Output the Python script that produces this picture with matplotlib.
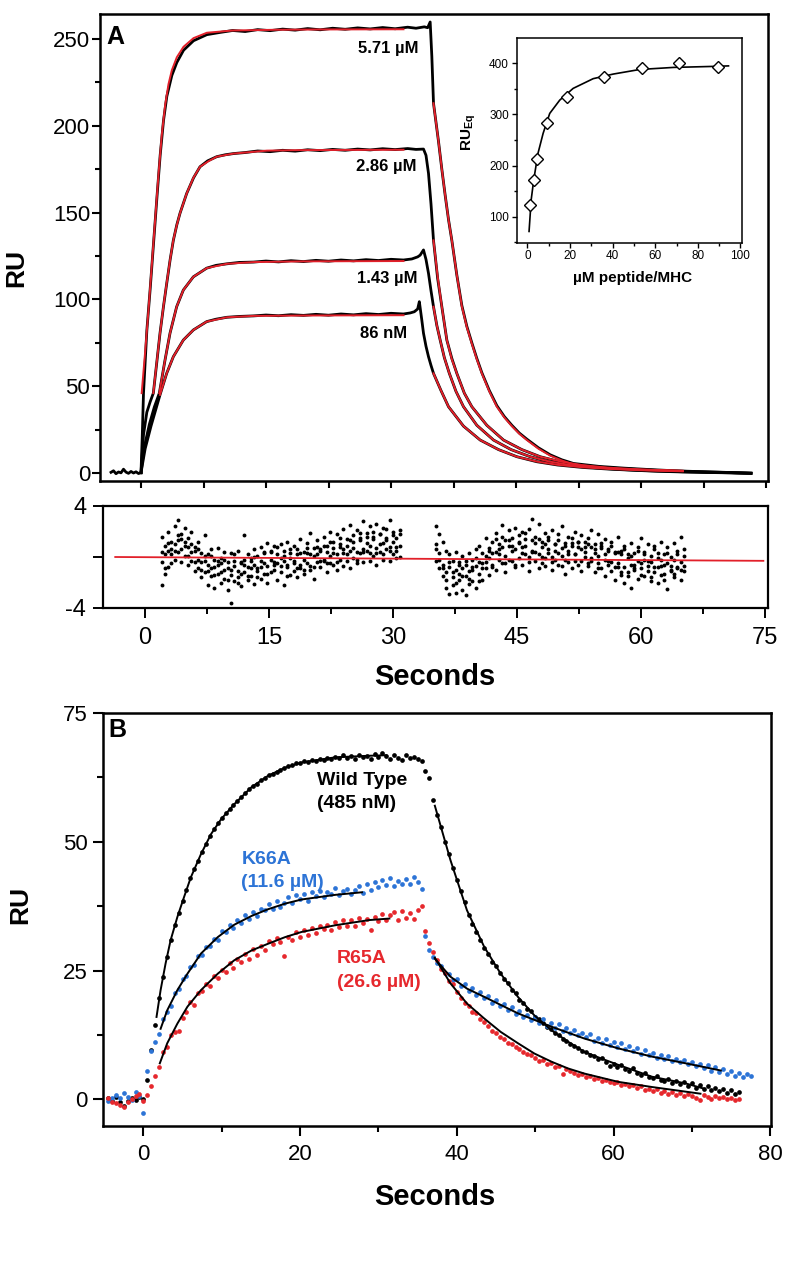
import matplotlib
matplotlib.use("Agg")
import matplotlib.pyplot as plt

plt.rcParams["font.family"] = ["Liberation Sans", "DejaVu Sans"]
plt.rcParams["mathtext.fontset"] = "custom"
plt.rcParams["mathtext.rm"] = "Liberation Sans"
plt.rcParams["mathtext.bf"] = "Liberation Sans:bold"

FIT_RED = "#e2202a"
BLUE = "#2d74d6"
RED = "#e6282d"
NARROW = ["Liberation Sans Narrow", "Liberation Sans", "DejaVu Sans"]

# ---------------- panel A: sensorgrams (seconds, RU) ----------------
base_t = [-3.6, -3.3, -3.0, -2.7, -2.4, -2.1, -1.8, -1.5, -1.2, -0.9, -0.6, -0.3, 0.0]
base_ru = [0.4, 1.3, -0.4, 0.6, 0.1, 2.2, 0.5, -0.2, 0.9, 0.0, 0.7, -0.3, 0.2]

t_571 = [0.0, 0.15, 0.3, 0.7, 1.1, 1.5, 1.9, 2.3, 2.7, 3.1, 3.7, 4.3, 5.1, 6.3, 7.9, 9.5,
         11.0, 12.5, 14.0, 15.5, 17.0, 18.5, 20.0, 21.5, 23.0, 24.5, 26.0, 27.5, 29.0, 30.5,
         32.0, 33.0, 34.0, 34.4, 34.7, 34.9, 35.1, 35.4, 35.7, 36.1, 36.5, 36.9, 37.3, 37.9, 38.5, 39.1,
         39.7, 40.3, 40.9, 41.8, 42.7, 43.6, 44.5, 45.4, 46.3, 47.7, 49.1, 50.5, 51.9, 55.0, 58.0, 61.0,
         64.0, 67.0, 70.0, 73.2]
ru_571 = [0.2, 21, 46, 82, 106, 132, 158, 183, 203, 217, 229, 236.5, 243.5, 249, 252.5, 253.8,
          254.9, 254.3, 255.4, 254.8, 255.7, 255.1, 256.0, 255.3, 256.2, 255.6, 256.4, 255.8, 256.6, 255.9,
          256.8, 256.2, 257.0, 256.5, 259.8, 240, 213, 202, 191, 175, 160, 146, 134, 114, 96.5, 84.5,
          75, 66, 57.8, 47.5, 38.8, 32.5, 27.5, 23, 19.5, 14.5, 10.5, 7.6, 5.5, 3.8, 2.8, 2.0,
          1.3, 0.8, 0.4, -0.2]
fit_571_on_t = [0.08, 0.5, 0.9, 1.3, 1.7, 2.1, 2.5, 2.9, 3.3, 3.7, 4.3, 5.1, 6.3, 7.9, 11.0, 16.0, 22.0, 31.5]
fit_571_on = [46, 70, 94, 120, 146, 172, 195, 212, 224, 232, 239.5, 245.5, 250.5, 253.6, 254.9, 255.3, 255.5, 255.6]
fit_571_off_t = [35.1, 35.4, 35.7, 36.1, 36.5, 36.9, 37.3, 37.9, 38.5, 39.1, 39.7, 40.3, 40.9, 41.8,
                 42.7, 43.6, 44.5, 45.4, 46.3, 47.7, 49.1, 50.5, 51.9, 55.0, 58.0, 61.5, 65.0]
fit_571_off = [213, 202, 191, 175, 160, 146, 134, 114, 96, 84, 74.5, 65.5, 57.4, 47,
               38.2, 32, 27, 22.6, 19, 14, 10, 7.2, 5, 3.2, 2.3, 1.7, 1.3]

t_286 = [0.0, 0.3, 0.7, 1.1, 1.48, 1.9, 2.28, 2.7, 3.08, 3.5, 3.88, 4.3, 4.68, 5.48, 6.3,
         7.08, 8.0, 9.08, 10.1, 11.1, 12.5, 14.0, 15.5, 17.0, 18.5, 20.0, 21.5, 23.0, 24.5, 26.0,
         27.5, 29.0, 30.5, 32.0, 33.0, 33.9, 34.2, 34.5, 34.8, 35.1, 35.6, 36.1, 36.7, 37.3, 37.9,
         38.8, 39.7, 41.5, 43.5, 45.7, 47.9, 50.5, 53.0, 56.0, 59.0, 62.0, 65.0, 68.0, 71.0, 73.2]
ru_286 = [0.2, 22, 35, 41, 46, 64, 80.5, 96, 109, 123, 134, 143, 149.6, 161, 170,
          176.4, 179.8, 182.2, 183.3, 184.0, 184.6, 185.5, 185.1, 185.9, 185.4, 186.2, 185.7, 186.4, 185.9, 186.6,
          186.1, 186.8, 186.3, 186.9, 186.4, 186.6, 183, 172.6, 155, 134, 112, 95.8, 76.6, 66, 57.4,
          46, 38.2, 27.5, 19, 13.5, 9.4, 6.2, 4.3, 3.0, 2.2, 1.5, 1.0, 0.6, 0.2, -0.1]
fit_286_on_t = [1.48, 1.88, 2.28, 2.68, 3.08, 3.48, 3.88, 4.28, 4.68, 5.48, 6.28, 7.08, 8.1, 9.08, 11.1, 15.1, 19.1, 25.0, 31.5]
fit_286_on = [46, 63.5, 80.5, 95.5, 109.3, 122.5, 134.2, 142.5, 149.6, 161, 170, 176.4, 179.6, 182.2, 184, 185.7, 186, 186.1, 186.2]
fit_286_off_t = [35.1, 35.6, 36.1, 36.7, 37.3, 37.9, 38.8, 39.7, 41.5, 43.5, 45.7, 47.9, 50.5, 53.0, 56.0, 60.0, 65.0]
fit_286_off = [134, 113, 95.8, 76.6, 65.5, 57.4, 46, 38.2, 27.5, 19, 13.5, 9.4, 6.5, 4.5, 3.1, 2.0, 1.2]

t_143 = [0.0, 0.4, 1.0, 1.6, 2.2, 2.88, 3.48, 4.28, 5.08, 6.28, 7.88, 9.0, 10.3, 11.8, 13.5,
         15.0, 16.5, 18.0, 19.5, 21.0, 22.5, 24.0, 25.5, 27.0, 28.5, 30.0, 31.5, 32.5, 33.2, 33.5,
         33.9, 34.2, 34.5, 34.8, 35.1, 35.5, 35.9, 36.4, 37.0, 37.8, 38.7, 40.3, 42.3, 44.4, 46.7,
         49.0, 51.5, 54.0, 57.0, 60.0, 63.0, 66.0, 69.0, 73.2]
ru_143 = [0.2, 15, 28, 38, 46, 65, 80.5, 95.8, 105.4, 113, 118, 119.6, 120.5, 121.3, 121.5,
          122.1, 121.6, 122.3, 121.8, 122.5, 122.0, 122.7, 122.2, 122.9, 122.4, 123.1, 122.7, 123.3, 124.5, 125.5,
          128.5, 123, 115, 105, 95.8, 85, 76.6, 66.5, 57.4, 47, 38.2, 27.5, 19, 13.5, 9.4,
          6.4, 4.4, 3.2, 2.2, 1.5, 1.0, 0.6, 0.3, -0.1]
fit_143_on_t = [2.2, 2.88, 3.48, 4.28, 5.08, 6.28, 7.88, 10.3, 13.5, 19.1, 25.0, 31.5]
fit_143_on = [46, 65, 80.5, 95.8, 105.4, 113, 118, 120.5, 121.5, 121.9, 122.0, 122.1]
fit_143_off_t = [35.1, 35.5, 35.9, 36.4, 37.0, 37.8, 38.7, 40.3, 42.3, 44.4, 46.7, 49.0, 51.5, 54.0, 57.0, 61.0, 65.0]
fit_143_off = [95.8, 85, 76.6, 66.5, 57.4, 47, 38.2, 27.5, 19, 13.5, 9.4, 6.6, 4.6, 3.4, 2.4, 1.6, 1.1]

t_086 = [0.0, 0.5, 1.2, 1.8, 2.28, 3.08, 3.88, 5.08, 6.28, 7.88, 9.0, 10.3, 11.8, 13.5, 15.0,
         16.5, 18.0, 19.5, 21.0, 22.5, 24.0, 25.5, 27.0, 28.5, 30.0, 31.5, 32.3, 32.8, 33.2, 33.4,
         33.7, 33.9, 34.2, 34.5, 34.8, 35.1, 36.0, 36.9, 38.7, 40.7, 42.9, 45.1, 47.5, 50.0, 53.0,
         56.0, 59.0, 62.0, 65.0, 68.0, 73.2]
ru_086 = [0.2, 14, 27, 37, 45, 57.4, 67, 76.6, 82.4, 87.2, 88.6, 89.7, 90.2, 90.5, 91.0,
          90.6, 91.2, 90.8, 91.4, 90.9, 91.6, 91.1, 91.8, 91.3, 92.0, 91.6, 92.2, 92.9, 94.5, 98.7,
          88, 80.5, 73, 67, 62, 57.4, 47.5, 38.2, 27, 19, 13.5, 9.4, 6.5, 4.6, 3.2,
          2.3, 1.6, 1.0, 0.6, 0.3, -0.1]
fit_086_on_t = [2.28, 3.08, 3.88, 5.08, 6.28, 7.88, 10.3, 13.5, 19.1, 25.0, 31.5]
fit_086_on = [45, 57.4, 67, 76.6, 82.4, 87.2, 89.7, 90.5, 90.7, 90.8, 90.9]
fit_086_off_t = [35.1, 36.0, 36.9, 38.7, 40.7, 42.9, 45.1, 47.5, 50.0, 53.0, 56.0, 60.0, 65.0]
fit_086_off = [57.4, 47.5, 38.2, 27, 19, 13.5, 9.4, 6.6, 4.7, 3.3, 2.4, 1.6, 1.0]

conc_labels = ["5.71 µM", "2.86 µM", "1.43 µM", "86 nM"]
conc_label_xy = [(26.0, 244.8), (25.8, 176.3), (25.9, 112.3), (26.3, 80.6)]

# ---------------- inset: equilibrium response ----------------
inset_conc = [1.4, 3.0, 4.7, 9.2, 18.4, 35.9, 53.7, 71.4, 89.3]
inset_ru = [123, 172, 212, 283, 334, 374, 390, 400, 392]
inset_fit_conc = [0.8, 1.8, 3.0, 5.0, 7.4, 10.5, 15.2, 21.5, 30.9, 40.3, 52.8, 68.5, 87.3, 94.4]
inset_fit_ru = [71, 133, 172, 224, 263, 302, 328, 351, 370, 379, 388, 392, 394, 395]

# ---------------- residuals (four traces per sample time) ----------------
res1_t = [2.0, 2.4, 2.8, 3.2, 3.6, 4.0, 4.4, 4.8, 5.2, 5.6, 6.0, 6.4, 6.8, 7.2, 7.6, 8.0, 8.4, 8.8,
          9.2, 9.6, 10.0, 10.4, 10.8, 11.2, 11.6, 12.0, 12.4, 12.8, 13.2, 13.6, 14.0, 14.4, 14.8,
          15.2, 15.6, 16.0, 16.4, 16.8, 17.2, 17.6, 18.0, 18.4, 18.8, 19.2, 19.6, 20.0, 20.4, 20.8,
          21.2, 21.6, 22.0, 22.4, 22.8, 23.2, 23.6, 24.0, 24.4, 24.8, 25.2, 25.6, 26.0, 26.4, 26.8,
          27.2, 27.6, 28.0, 28.4, 28.8, 29.2, 29.6, 30.0, 30.4, 30.8]
res1_a = [1.6, 0.9, 2.0, 1.2, 2.4, 2.9, 1.8, 2.3, 1.5, 2.0, 0.8, 1.2, 0.3, 1.7, 0.2, 0.6, -0.2, 0.7,
          -0.1, 0.4, -0.4, 0.3, -0.3, 0.5, -0.5, 1.7, 0.2, -0.1, 0.6, 0.1, 0.8, 0.3, 1.1,
          0.4, 0.9, 0.2, 1.0, 0.5, 1.2, 0.3, 0.9, 0.6, 1.4, 0.4, 1.1, 1.9, 0.7, 1.3,
          0.5, 1.6, 0.9, 2.0, 1.2, 1.8, 0.8, 2.2, 1.4, 2.5, 1.7, 2.1, 1.5, 2.8, 1.9,
          2.4, 1.6, 2.6, 1.8, 2.3, 1.3, 2.9, 2.0, 1.5, 1.8]
res1_b = [-0.4, 0.2, -0.8, 0.6, 1.0, 0.4, 1.4, 0.1, 0.8, -0.3, 0.5, -0.9, -0.4, -1.2, -0.6, -1.5, -0.8, -1.3,
          -0.5, -1.7, -0.9, -1.4, -0.7, -1.6, -0.4, -1.2, -0.8, -1.5, -0.6, -1.1, -0.3, -1.3, -0.7,
          -0.2, -1.0, -0.5, -1.2, -0.3, -0.8, -0.1, -1.1, 0.2, -0.6, -0.2, 0.3, -0.7, 0.1, -0.4,
          0.6, -0.2, 0.4, -0.5, 0.7, 0.2, 1.0, 0.3, 0.9, 0.5, 1.2, 0.4, 1.3, 0.6, 1.1,
          0.3, 1.4, 0.7, 1.0, 0.2, 1.5, 0.8, 1.2, 0.5, 0.9]
res1_c = [-2.2, -1.3, 0.5, -0.5, -0.2, 1.3, -0.4, 0.9, -0.6, 0.4, -1.1, -0.2, -1.6, 0.1, -2.2, -0.9, -2.4, -0.3,
          -2.0, -1.0, -2.6, -3.6, -1.9, -1.1, -2.3, -0.6, -1.8, -0.3, -2.1, -0.9, -1.7, -0.5, -2.0,
          -1.2, -0.4, -1.8, -0.1, -2.2, -0.6, -1.4, -0.3, -1.6, -0.9, -1.3, -0.5, -1.0, -1.7, 0.2,
          -0.8, -0.3, -1.2, 0.1, -0.6, -1.0, -0.2, -0.7, 0.2, -0.9, -0.1, -0.5, 0.3, -0.4, 0.5,
          -0.3, 0.1, -0.6, 0.4, -0.2, 0.6, -0.3, 0.2, -0.1, 0.0]
res1_d = [0.4, -0.9, 1.1, 0.2, 0.5, 1.7, 0.6, 1.2, 0.1, 1.0, -0.4, 0.6, -1.0, -0.3, -1.1, 0.1, -1.4, -0.6,
          -1.2, -0.2, -1.8, -1.0, 0.2, -2.0, -1.3, -0.2, -1.5, -0.9, 0.0, -1.6, -0.8, 0.4, -1.3,
          0.5, -0.6, 0.8, -0.7, 0.1, -1.5, 0.6, -0.5, -0.9, 0.3, -1.0, 0.7, 0.2, -0.8, 0.8,
          -0.3, 0.9, -0.5, 1.2, 0.3, -0.4, 1.5, 0.6, -0.3, 1.3, 0.7, -0.2, 1.9, 0.4, 1.6,
          0.9, 2.0, 0.3, 1.8, 1.1, 2.2, 0.5, 1.7, 0.8, 2.1]

res2_t = [35.2, 35.6, 36.0, 36.4, 36.8, 37.2, 37.6, 38.0, 38.4, 38.8, 39.2, 39.6, 40.0, 40.4, 40.8,
          41.2, 41.6, 42.0, 42.4, 42.8, 43.2, 43.6, 44.0, 44.4, 44.8, 45.2, 45.6, 46.0, 46.4, 46.8,
          47.2, 47.6, 48.0, 48.4, 48.8, 49.2, 49.6, 50.0, 50.4, 50.8, 51.2, 51.6, 52.0, 52.4, 52.8,
          53.2, 53.6, 54.0, 54.4, 54.8, 55.2, 55.6, 56.0, 56.4, 56.8, 57.2, 57.6, 58.0, 58.4, 58.8,
          59.2, 59.6, 60.0, 60.4, 60.8, 61.2, 61.6, 62.0, 62.4, 62.8, 63.2, 63.6, 64.0, 64.4, 64.8, 65.2]
res2_a = [2.4, 1.8, 1.2, 0.5, 0.2, -0.3, 0.4, -0.4, 0.1, -0.6, 0.3, -0.2, 0.6, 0.9, 0.3,
          1.5, 0.7, 1.2, 1.9, 1.0, 2.5, 1.3, 2.1, 1.5, 2.3, 1.1, 2.0, 1.4, 2.2, 3.0,
          1.6, 2.6, 1.2, 1.9, 1.3, 2.1, 1.0, 1.8, 2.4, 1.1, 1.6, 0.9, 2.0, 1.2, 1.7,
          0.8, 1.5, 2.1, 1.0, 1.8, 0.7, 1.4, 0.6, 1.2, 0.4, 1.6, 0.5, 0.9, 0.2, 1.1,
          0.3, 0.8, 1.5, 0.4, 1.0, 0.1, 0.9, 0.3, 1.2, 0.2, 0.8, 0.0, 1.1, 0.5, 1.6, 0.6]
res2_b = [1.0, 0.3, -0.6, -1.2, -0.8, -1.6, -1.0, -1.8, -0.9, -1.5, -1.1, -1.9, -0.7, -1.3, -0.5,
          -0.9, -0.1, -0.6, 0.4, -0.2, 0.8, 0.1, 0.9, -0.3, 0.6, 1.2, 0.3, 0.9, -0.4, 0.5,
          1.1, 0.2, 0.8, -0.1, 0.6, 0.0, 1.0, 0.3, 0.7, -0.2, 0.5, 1.1, 0.2, 0.8, -0.3,
          0.4, 1.0, -0.1, 0.6, 0.1, 0.9, -0.2, 0.5, -0.4, 0.3, -0.5, 0.2, -0.8, -0.1, -0.6,
          -1.0, -0.3, -0.9, -0.2, -1.1, -0.4, -0.8, -0.1, -0.7, -1.3, -0.5, -1.0, -0.2, -0.8, -0.4, -1.1]
res2_c = [-0.3, -0.9, -1.5, -2.4, -2.9, -2.2, -2.8, -1.3, -2.6, -3.0, -2.1, -0.8, -2.4, -0.4, -1.8,
          0.1, -1.4, 0.3, -1.0, 0.6, -0.5, -1.2, -0.2, 0.5, -0.8, -0.1, -0.6, 0.2, -1.1, 0.4,
          -0.3, -0.9, 0.0, -0.7, 0.3, -1.0, -0.2, -0.6, 0.1, -1.3, -0.4, -0.9, 0.2, -0.6, -1.1,
          0.0, -0.7, -0.3, -1.2, -0.5, -0.9, -1.5, -0.6, -1.1, -1.8, -0.8, -1.4, -2.0, -1.2, -2.4,
          -0.9, -1.7, -0.5, -1.5, -0.7, -1.9, -1.2, -2.0, -1.4, -0.6, -2.5, -1.1, -1.6, -0.9, -1.8, -0.7]
res2_d = [0.6, -0.2, -0.9, -1.8, -0.4, -1.2, -2.0, -0.6, -1.5, -0.3, -1.7, -1.0, -0.1, -1.9, -0.9,
          -0.4, 0.5, -0.8, 1.4, 0.2, 1.6, -0.5, 1.3, 0.9, -0.6, 1.7, 0.8, 1.9, 0.0, 1.3,
          0.4, 1.4, -0.5, 1.0, 1.6, -0.4, 0.5, 1.3, -0.7, 0.9, 0.2, 1.5, -0.3, 1.2, 0.6,
          1.2, -0.5, 0.8, 0.3, -0.9, 1.1, 0.2, -0.3, 0.9, -0.8, 0.4, -1.2, 0.6, -1.5, 0.1,
          -0.6, 0.5, -1.4, 0.2, -0.3, -1.6, 0.6, -0.8, -0.2, -1.8, 0.3, -0.7, -1.3, 0.2, -1.0, 0.1]
res_fit_t = [-3.6, 74.8]
res_fit = [0.0, -0.3]

# ---------------- panel B: wild type and mutants ----------------
tb_base = [-4.5, -4.0, -3.5, -3.0, -2.5, -2.0, -1.5, -1.0, -0.5, 0.0]
tb_on = [0.5, 1.0, 1.5, 2.0, 2.5, 3.0, 3.5, 4.0, 4.5, 5.0, 5.5, 6.0, 6.5, 7.0, 7.5, 8.0, 8.5, 9.0,
         9.5, 10.0, 10.5, 11.0, 11.5, 12.0, 12.5, 13.0, 13.5, 14.0, 14.5, 15.0, 15.5, 16.0, 16.5,
         17.0, 17.5, 18.0, 18.5, 19.0, 19.5, 20.0, 20.5, 21.0, 21.5, 22.0, 22.5, 23.0, 23.5, 24.0,
         24.5, 25.0, 25.5, 26.0, 26.5, 27.0, 27.5, 28.0, 28.5, 29.0, 29.5, 30.0, 30.5, 31.0, 31.5,
         32.0, 32.5, 33.0, 33.5, 34.0, 34.5, 35.0, 35.5]
tb_off = [36.0, 36.5, 37.0, 37.5, 38.0, 38.5, 39.0, 39.5, 40.0, 40.5, 41.0, 41.5, 42.0, 42.5,
          43.0, 43.5, 44.0, 44.5, 45.0, 45.5, 46.0, 46.5, 47.0, 47.5, 48.0, 48.5, 49.0, 49.5,
          50.0, 50.5, 51.0, 51.5, 52.0, 52.5, 53.0, 53.5, 54.0, 54.5, 55.0, 55.5, 56.0, 56.5,
          57.0, 57.5, 58.0, 58.5, 59.0, 59.5, 60.0, 60.5, 61.0, 61.5, 62.0, 62.5, 63.0, 63.5,
          64.0, 64.5, 65.0, 65.5, 66.0, 66.5, 67.0, 67.5, 68.0, 68.5, 69.0, 69.5, 70.0, 70.5,
          71.0, 71.5, 72.0, 72.5, 73.0, 73.5, 74.0, 74.5, 75.0, 75.5, 76.0, 76.5, 77.0, 77.5]
nan = float("nan")

wt_base = [0.2, -0.3, 0.4, -0.6, -1.2, -0.4, 0.3, -0.2, 0.5, 0.0]
wt_on = [3.7, 9.5, 14.4, 19.6, 23.8, 27.6, 31.0, 33.9, 36.2, 38.6, 40.6, 42.9, 44.8, 46.3, 48.0, 49.6, 51.2, 52.4,
         53.6, 54.6, 55.5, 56.3, 57.2, 58.0, 58.7, 59.4, 60.2, 60.8, 61.2, 61.9, 62.4, 62.9, 63.1,
         63.6, 64.0, 64.3, 64.8, 64.9, 65.2, 65.3, 65.6, 65.4, 65.9, 65.6, 66.1, 65.8, 66.3, 66.0,
         66.5, 66.2, 66.8, 66.3, 66.6, 66.0, 66.9, 66.4, 66.7, 66.1, 67.0, 66.5, 67.2, 66.6, 66.0,
         66.8, 66.3, 65.9, 66.9, 66.2, 66.5, 66.0, 65.6]
wt_off = [63.8, 62.4, 58.2, 55.2, 52.8, 50.0, 47.6, 45.0, 42.6, 40.4, 38.3, 35.8, 34.1, 32.4,
          31.0, 29.4, 28.2, 26.7, 25.9, 24.6, 23.4, 22.6, 21.3, 20.7, 19.3, 18.8, 17.5, 17.1,
          16.0, 15.6, 14.9, 14.0, 13.6, 12.9, 12.5, 11.7, 11.4, 10.8, 10.3, 9.9, 9.4, 9.2,
          8.6, 8.5, 7.8, 8.1, 7.3, 6.5, 6.9, 6.2, 6.6, 5.8, 5.5, 6.0, 5.1, 4.7,
          5.2, 4.4, 4.1, 4.6, 3.8, 3.5, 4.0, 3.2, 3.5, 2.9, 3.3, 2.6, 3.1, 2.3,
          2.8, 2.0, 2.6, 1.8, 2.3, 1.6, 2.0, 1.3, 1.9, 1.1, 1.5, nan, nan, nan]
wt_fit_on_t = [1.68, 2.2, 2.84, 3.48, 4.34, 5.2, 6.06, 7.35, 8.64, 9.93, 11.6, 13.8, 15.9, 18.1, 20.2, 24.5, 28.8, 31.0]
wt_fit_on = [16.0, 21.2, 26.4, 30.9, 35.4, 39.3, 43.1, 47.6, 51.5, 54.4, 57.3, 60.6, 62.8, 64.4, 65.4, 66.4, 66.7, 66.8]
wt_fit_off_t = [37.2, 39.2, 41.3, 43.5, 45.6, 47.8, 49.9, 52.1, 54.2, 56.3, 58.5, 60.6, 64.9, 69.2, 71.5]
wt_fit_off = [57.0, 46.4, 36.7, 29.6, 24.4, 19.9, 16.3, 13.4, 11.2, 9.2, 7.9, 6.7, 4.4, 3.1, 2.1]

k66a_base = [-0.4, 0.3, 0.8, 0.2, 1.2, 0.5, -0.2, 1.4, 0.7, -2.6]
k66a_on = [5.5, 9.3, 11.2, 12.6, 15.6, 17.0, 18.2, 20.6, 21.4, 23.4, 23.9, 25.6, 26.0, 27.9, 28.1, 29.6, 29.8, 31.2,
           31.0, 32.6, 32.4, 33.9, 33.3, 34.9, 34.2, 35.8, 35.0, 36.4, 35.6, 37.0, 36.8, 37.9, 36.9,
           38.6, 37.4, 38.2, 39.3, 38.1, 39.6, 38.9, 39.9, 38.6, 40.2, 39.4, 40.5, 39.2, 40.3, 39.8,
           41.0, 39.6, 40.4, 40.9, 39.8, 40.6, 41.4, 40.1, 41.8, 40.7, 42.2, 41.3, 42.5, 41.6, 42.9,
           41.5, 42.4, 41.9, 42.8, 41.8, 43.1, 42.2, 40.8]
k66a_off = [31.8, 28.9, 27.6, 26.4, 25.9, 24.6, 24.3, 23.1, 23.4, 22.0, 22.3, 21.0, 21.6, 20.3,
            20.8, 19.6, 20.1, 18.8, 19.2, 18.1, 18.6, 17.3, 17.9, 16.5, 17.2, 16.0, 16.4, 15.4,
            15.9, 14.8, 15.6, 14.3, 14.9, 13.8, 14.6, 13.2, 13.9, 12.9, 13.5, 12.4, 12.8, 12.1,
            12.6, 11.4, 12.0, 10.9, 11.7, 10.6, 11.2, 10.1, 10.9, 9.8, 10.4, 9.3, 9.9, 8.8,
            9.5, 8.6, 9.0, 8.1, 8.7, 7.8, 8.4, 7.4, 7.9, 7.2, 7.6, 6.8, 7.3, 6.4,
            6.9, 6.0, 6.6, 5.6, 6.2, 5.3, 5.8, 5.0, 5.5, 4.6, 5.1, 4.3, 4.9, 4.5]
k66a_fit_on_t = [2.2, 3.05, 4.34, 5.63, 7.35, 9.5, 11.6, 13.8, 15.9, 18.1, 20.2, 24.5, 27.9]
k66a_fit_on = [13.7, 17.3, 21.2, 24.4, 28.3, 31.5, 33.9, 35.6, 36.9, 38.0, 38.8, 39.7, 40.2]
k66a_fit_off_t = [37.2, 39.2, 41.3, 43.5, 47.8, 52.1, 56.3, 60.6, 64.9, 69.2, 73.7]
k66a_fit_off = [27.3, 23.8, 21.5, 19.9, 16.7, 14.1, 11.8, 9.9, 8.3, 7.0, 5.6]

r65a_base = [0.3, -0.5, -0.8, -1.0, -1.4, -0.6, 0.1, 0.6, 1.0, -0.3]
r65a_on = [0.8, 2.6, 4.6, 6.2, 9.1, 10.2, 12.4, 13.0, 13.2, 15.8, 16.9, 18.9, 18.4, 20.6, 21.0, 22.4, 22.0, 23.9,
           23.6, 25.1, 24.7, 26.4, 25.5, 27.3, 26.6, 28.2, 27.2, 29.1, 28.0, 29.8, 29.0, 30.8, 30.1,
           31.3, 30.5, 27.8, 31.6, 31.0, 32.4, 31.5, 32.9, 32.0, 33.2, 32.3, 33.6, 33.0, 33.9, 32.9,
           34.4, 33.4, 34.8, 33.7, 34.9, 33.6, 35.3, 34.2, 35.0, 32.8, 35.4, 34.7, 36.0, 34.9, 35.7,
           36.3, 34.8, 36.6, 35.3, 36.1, 35.0, 36.8, 37.6]
r65a_off = [32.6, 30.4, 28.7, 27.0, 25.4, 24.5, 22.9, 22.3, 20.8, 19.6, 18.7, 18.1, 17.0, 16.7,
            15.6, 15.0, 14.2, 13.3, 12.9, 12.2, 11.8, 11.0, 10.7, 10.1, 9.8, 9.2, 8.9, 8.6,
            8.1, 7.4, 7.6, 6.9, 7.0, 6.3, 6.4, 4.9, 5.9, 5.6, 5.2, 4.8, 5.0, 4.3,
            4.5, 4.0, 4.2, 3.6, 3.8, 3.3, 3.1, 3.4, 2.8, 3.0, 2.5, 2.7, 2.2, 2.6,
            1.9, 2.1, 1.6, 2.0, 1.3, 1.7, 1.1, 1.5, 0.8, 1.3, 0.6, 1.0, 0.7, 0.3,
            -0.2, 0.9, 0.4, 0.1, 0.7, 0.2, 0.5, 0.0, 0.3, -0.2, 0.1, nan, nan, nan]
r65a_fit_on_t = [2.1, 3.05, 4.34, 5.63, 7.35, 9.5, 11.6, 13.8, 15.9, 18.1, 20.2, 24.5, 28.8, 31.4]
r65a_fit_on = [7.0, 10.9, 14.7, 18.0, 21.2, 24.4, 27.0, 28.9, 30.2, 31.5, 32.5, 33.8, 34.8, 35.1]
r65a_fit_off_t = [37.2, 39.2, 41.3, 43.5, 45.6, 47.8, 49.9, 52.1, 54.2, 56.3, 60.6, 64.9, 71.1]
r65a_fit_off = [27.5, 22.5, 18.6, 15.7, 13.1, 10.9, 8.9, 7.3, 6.0, 5.0, 3.4, 2.4, 1.1]

W, H = 789, 1280


def box(left, top, right, bottom):
    return [left / W, 1 - bottom / H, (right - left) / W, (bottom - top) / H]


def style_spines(ax, lw):
    for sp in ax.spines.values():
        sp.set_linewidth(lw)
        sp.set_color("black")


fig = plt.figure(figsize=(W / 100, H / 100), dpi=100)

# ---- panel A ----
ax_a = fig.add_axes(box(100, 14, 768, 481))
ax_a.plot(base_t, base_ru, color="black", lw=2.0)
for t, ru in [(t_571, ru_571), (t_286, ru_286), (t_143, ru_143), (t_086, ru_086)]:
    ax_a.plot(t, ru, color="black", lw=2.0, solid_joinstyle="round")
for t, ru in [(fit_571_on_t, fit_571_on), (fit_571_off_t, fit_571_off),
              (fit_286_on_t, fit_286_on), (fit_286_off_t, fit_286_off),
              (fit_143_on_t, fit_143_on), (fit_143_off_t, fit_143_off),
              (fit_086_on_t, fit_086_on), (fit_086_off_t, fit_086_off)]:
    ax_a.plot(t, ru, color=FIT_RED, lw=1.4)
for label, (x, y) in zip(conc_labels, conc_label_xy):
    ax_a.text(x, y, label, fontsize=12, fontweight="bold", va="center", ha="left")
ax_a.text(0.009, 0.976, "A", transform=ax_a.transAxes, fontsize=18, fontweight="bold", va="top")
ax_a.set_xlim(-4.92, 75.24)
ax_a.set_ylim(-4.6, 264.4)
ax_a.set_yticks([0, 50, 100, 150, 200, 250])
ax_a.set_yticks([25, 75, 125, 175, 225], minor=True)
ax_a.set_xticks([0, 7.5, 15, 22.5, 30, 37.5, 45, 52.5, 60, 67.5, 75])
ax_a.tick_params(axis="y", which="major", direction="out", length=6, width=1.5, pad=1, labelsize=16)
ax_a.tick_params(axis="y", which="minor", direction="out", length=3.5, width=1.5)
ax_a.tick_params(axis="x", which="both", direction="out", length=5, width=1.5, labelbottom=False)
style_spines(ax_a, 1.8)

# ---- inset ----
ax_in = fig.add_axes(box(516.7, 38.3, 741.7, 242.7))
ax_in.plot(inset_fit_conc, inset_fit_ru, color="black", lw=1.2)
ax_in.plot(inset_conc, inset_ru, ls="none", marker="D", ms=6, mfc="white", mec="black", mew=1.0)
ax_in.set_xlim(-5.0, 100.6)
ax_in.set_ylim(49, 449)
ax_in.set_xticks([0, 20, 40, 60, 80, 100])
ax_in.set_xticks([10, 30, 50, 70, 90], minor=True)
ax_in.set_yticks([100, 200, 300, 400])
ax_in.set_yticks([50, 150, 250, 350], minor=True)
ax_in.tick_params(which="major", direction="out", length=3.5, width=1.0, pad=2, labelsize=8.5)
ax_in.tick_params(which="minor", direction="out", length=2, width=1.0)
style_spines(ax_in, 1.1)
fig.text(633 / W, 1 - 278 / H, "µM peptide/MHC", fontsize=11, fontweight="bold", ha="center", va="center")
fig.text(469 / W, 1 - 132 / H, r"RU$_{\mathbf{Eq}}$", fontsize=11, fontweight="bold",
         rotation=90, ha="center", va="center")

# ---- residuals ----
ax_r = fig.add_axes(box(103, 506, 768, 608))
for tt, rr in [(res1_t, res1_a), (res1_t, res1_b), (res1_t, res1_c), (res1_t, res1_d),
               (res2_t, res2_a), (res2_t, res2_b), (res2_t, res2_c), (res2_t, res2_d)]:
    ax_r.plot(tt, rr, ls="none", marker="o", ms=2.8, color="black", mew=0)
ax_r.plot(res_fit_t, res_fit, color=FIT_RED, lw=1.3)
ax_r.set_xlim(-5.08, 75.36)
ax_r.set_ylim(-4, 4)
ax_r.set_yticks([-4, 0, 4])
ax_r.set_yticklabels(["-4", "", "4"])
ax_r.set_xticks([0, 15, 30, 45, 60, 75])
ax_r.set_xticks([7.5, 22.5, 37.5, 52.5, 67.5], minor=True)
ax_r.tick_params(axis="x", which="major", direction="out", length=7, width=1.4, pad=7, labelsize=17)
ax_r.tick_params(axis="y", which="major", direction="out", length=7, width=1.4, pad=5, labelsize=17)
ax_r.tick_params(which="minor", direction="out", length=4.5, width=1.4)
for lbl in ax_r.get_xticklabels() + ax_r.get_yticklabels():
    lbl.set_family(NARROW)
style_spines(ax_r, 1.6)

fig.text(435 / W, 1 - 677 / H, "Seconds", fontsize=21, fontweight="bold", ha="center", va="center")
fig.text(16 / W, 1 - 268 / H, "RU", fontsize=19, fontweight="bold", rotation=90, ha="center", va="center")

# ---- panel B ----
ax_b = fig.add_axes(box(103, 713, 771, 1126))
series = [("black", wt_base, wt_on, wt_off), (BLUE, k66a_base, k66a_on, k66a_off), (RED, r65a_base, r65a_on, r65a_off)]
for color, yb, yon, yoff in series:
    ax_b.plot(tb_base + tb_on + tb_off, yb + yon + yoff, ls="none", marker="o", ms=3.4, color=color, mew=0)
for t, ru in [(wt_fit_on_t, wt_fit_on), (wt_fit_off_t, wt_fit_off),
              (k66a_fit_on_t, k66a_fit_on), (k66a_fit_off_t, k66a_fit_off),
              (r65a_fit_on_t, r65a_fit_on), (r65a_fit_off_t, r65a_fit_off)]:
    ax_b.plot(t, ru, color="black", lw=1.4)
ax_b.text(22.2, 61.9, "Wild Type", fontsize=14, fontweight="bold", color="black", va="center")
ax_b.text(22.2, 57.4, "(485 nM)", fontsize=14, fontweight="bold", color="black", va="center")
ax_b.text(12.5, 46.6, "K66A", fontsize=14, fontweight="bold", color=BLUE, va="center")
ax_b.text(12.5, 42.1, "(11.6 µM)", fontsize=14, fontweight="bold", color=BLUE, va="center")
ax_b.text(24.7, 27.3, "R65A", fontsize=14, fontweight="bold", color=RED, va="center")
ax_b.text(24.7, 22.6, "(26.6 µM)", fontsize=14, fontweight="bold", color=RED, va="center")
ax_b.text(0.0075, 0.988, "B", transform=ax_b.transAxes, fontsize=18, fontweight="bold", va="top")
ax_b.set_xlim(-5.15, 80.1)
ax_b.set_ylim(-5.17, 74.9)
ax_b.set_xticks([0, 20, 40, 60, 80])
ax_b.set_xticks([10, 30, 50, 70], minor=True)
ax_b.set_yticks([0, 25, 50, 75])
ax_b.set_yticks([12.5, 37.5, 62.5], minor=True)
ax_b.tick_params(axis="x", which="major", direction="out", length=7, width=1.5, pad=6, labelsize=16)
ax_b.tick_params(axis="y", which="major", direction="out", length=7, width=1.5, pad=4, labelsize=16)
ax_b.tick_params(which="minor", direction="out", length=4.5, width=1.5)
style_spines(ax_b, 1.8)

fig.text(435 / W, 1 - 1197 / H, "Seconds", fontsize=21, fontweight="bold", ha="center", va="center")
fig.text(20 / W, 1 - 905 / H, "RU", fontsize=19, fontweight="bold", rotation=90, ha="center", va="center")

fig.savefig("out.png", dpi=100)
